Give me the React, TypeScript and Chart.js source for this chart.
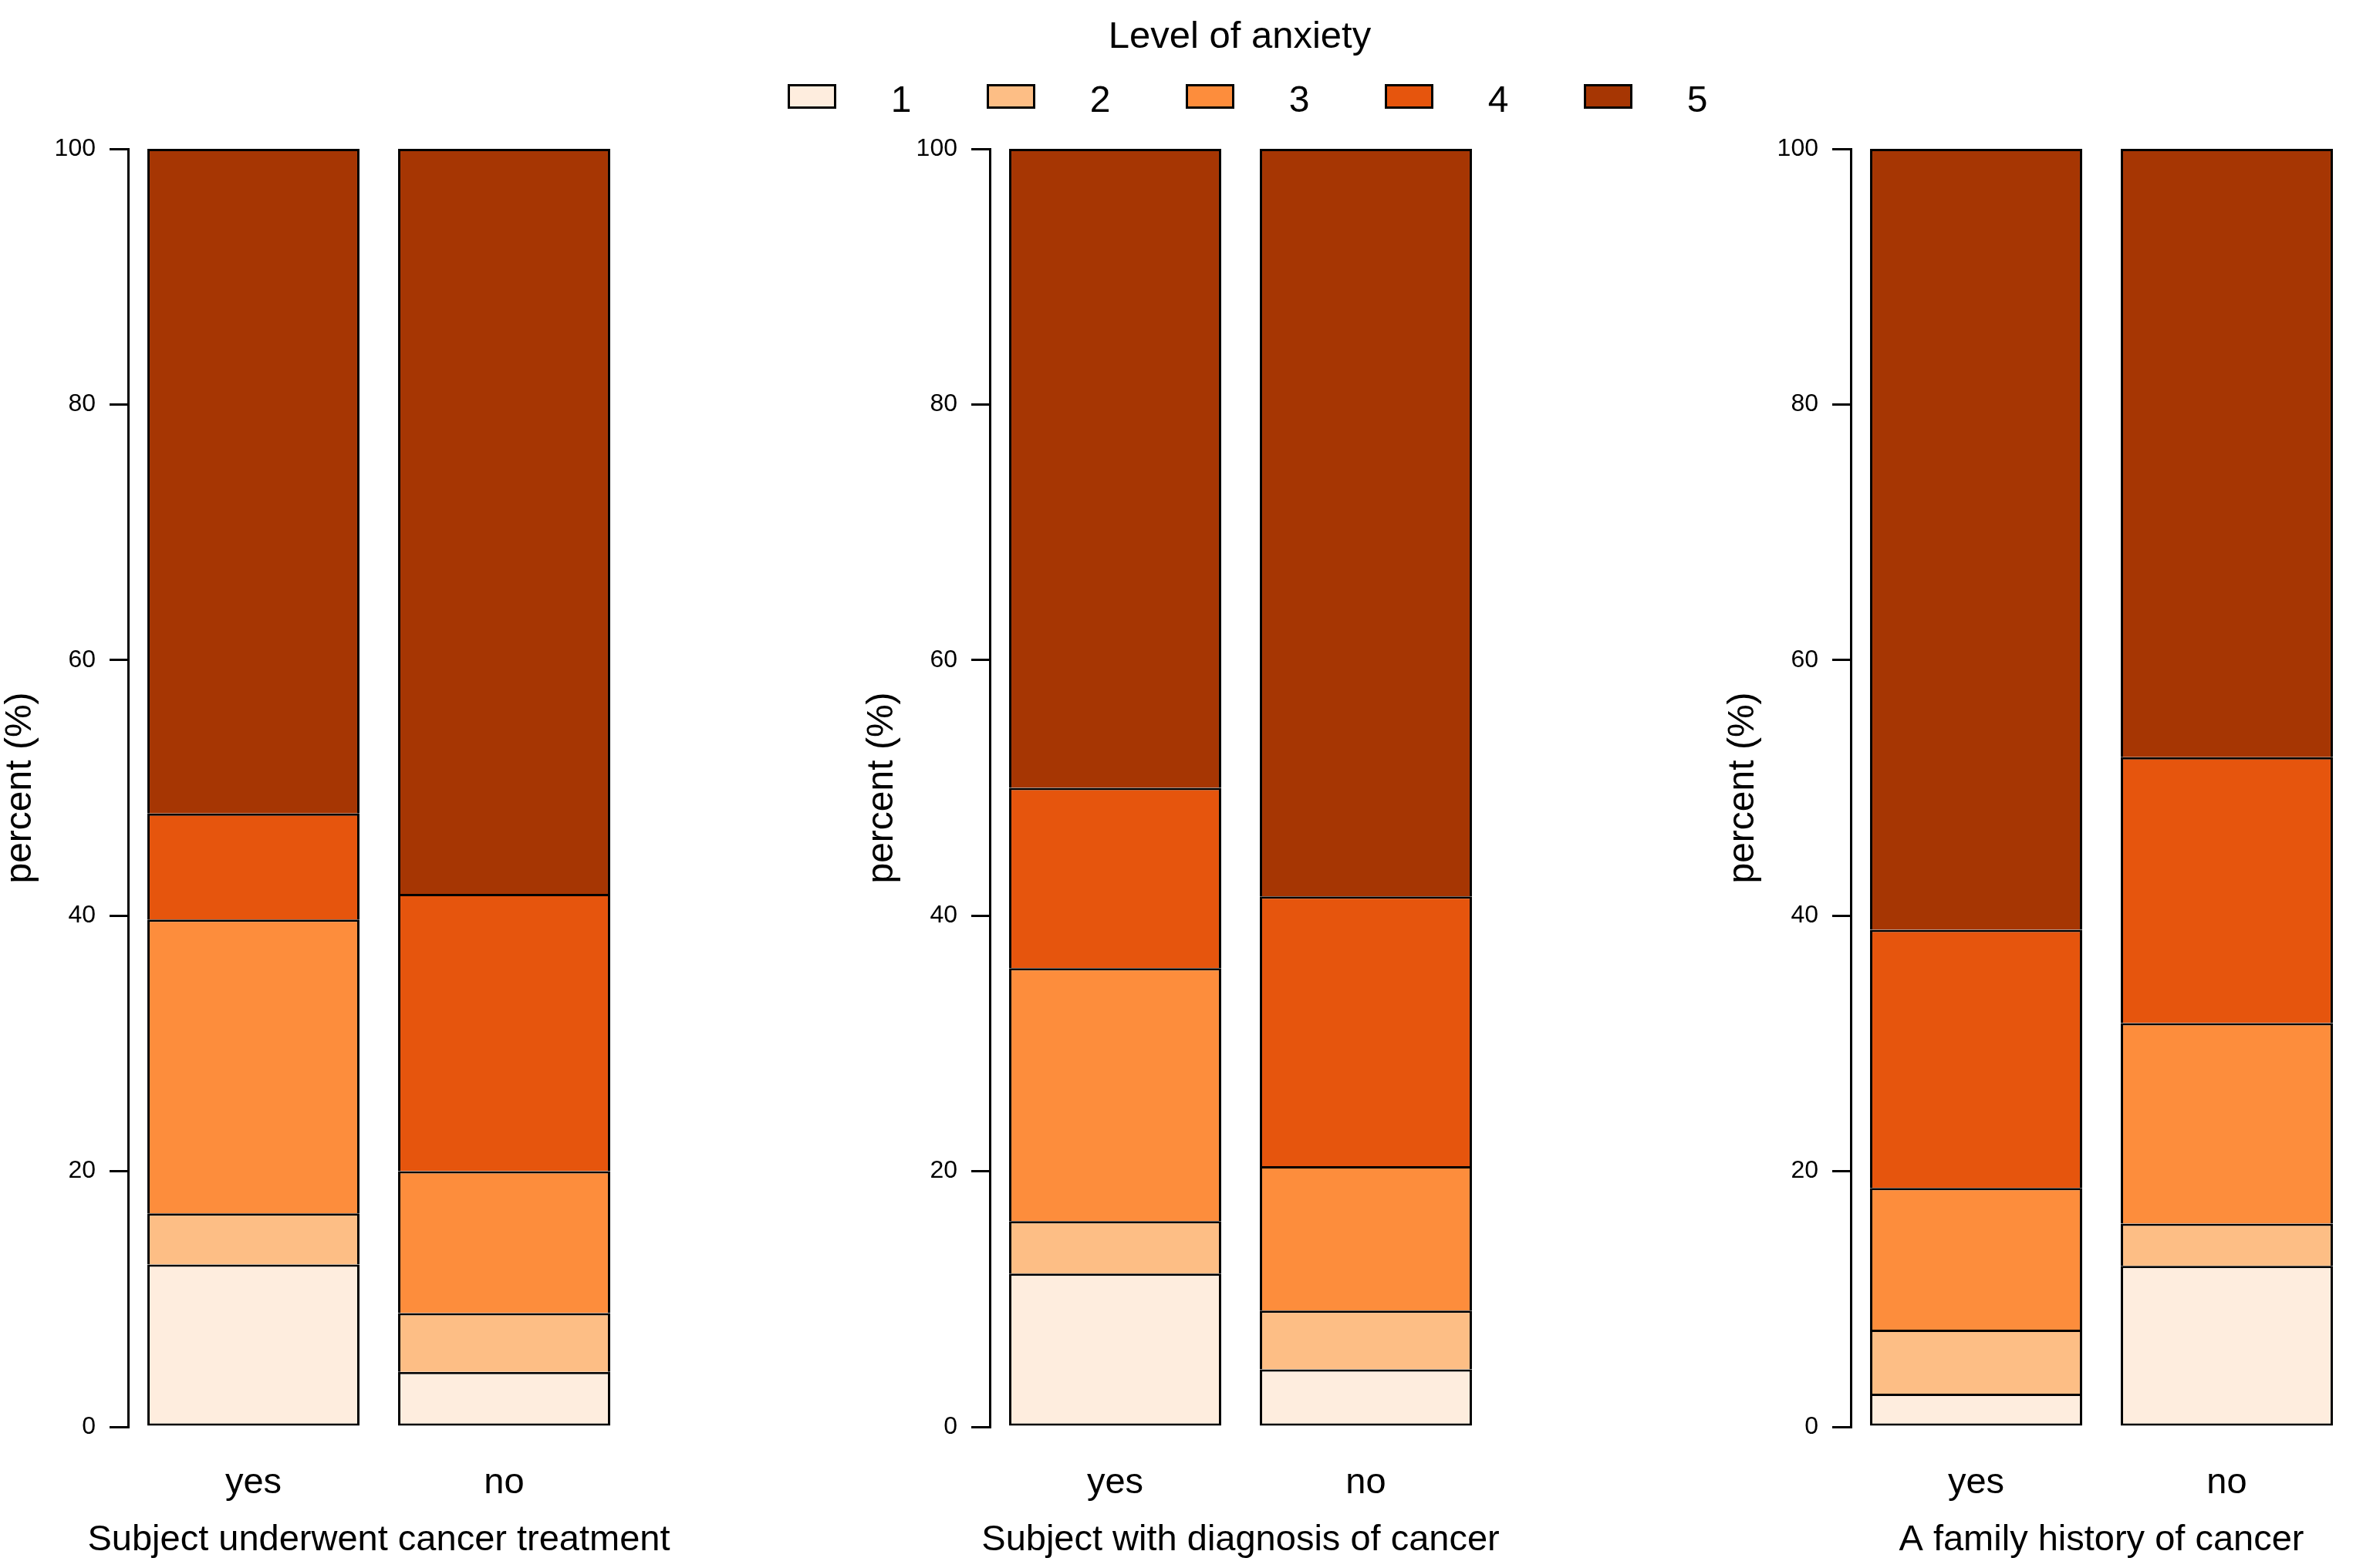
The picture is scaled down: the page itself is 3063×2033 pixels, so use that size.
import React, { useEffect, useRef } from "react";
import { Chart, registerables } from "chart.js";

Chart.register(...registerables);

// ---- data ----
const levels = ["1", "2", "3", "4", "5"];
const levelColors = ["#FEEDDE", "#FDBE85", "#FD8D3C", "#E6550D", "#A63603"];
const categories = ["yes", "no"];
const panelTitles = [
  "Subject underwent cancer treatment",
  "Subject with diagnosis of cancer",
  "A family history of cancer",
];
const legendTitle = "Level of anxiety";
const yAxisTitle = "percent (%)";
const yTickValues = [0, 20, 40, 60, 80, 100];

// percent per anxiety level (1..5)
const treatmentYes = [12.7, 4.0, 23.0, 8.3, 52.0];
const treatmentNo = [4.3, 4.6, 11.1, 21.7, 58.3];
const diagnosisYes = [12.0, 4.1, 19.8, 14.1, 50.0];
const diagnosisNo = [4.5, 4.6, 11.3, 21.1, 58.5];
const familyYes = [2.6, 5.0, 11.1, 20.2, 61.1];
const familyNo = [12.6, 3.3, 15.7, 20.8, 47.6];

const panelYes = [treatmentYes, diagnosisYes, familyYes];
const panelNo = [treatmentNo, diagnosisNo, familyNo];

// ---- layout ----
const FONT = '"Liberation Sans", Arial, Helvetica, sans-serif';
const PAGE_W = 3063;
const PAGE_H = 2033;
const PANEL_STEP = 1116.5;
const AXIS_W = 166;
const PLOT_W = 650;
const PLOT_TOP = 193;
const XAXIS_H = 183;
const XTITLE_Y = 1997;

// draws the panel's x-axis title centred under the plot, without width squeezing
const xTitlePlugin = {
  id: "xTitleFree",
  afterDraw(chart: any, _args: any, opts: any) {
    const { ctx, chartArea } = chart;
    ctx.save();
    ctx.fillStyle = "#000";
    ctx.font = `47px ${FONT}`;
    ctx.textAlign = "center";
    ctx.textBaseline = "middle";
    ctx.fillText(opts.text, (chartArea.left + chartArea.right) / 2, XTITLE_Y);
    ctx.restore();
  },
};

function panelBox(index: number) {
  const left = Math.round(index * PANEL_STEP);
  const next = index < 2 ? Math.round((index + 1) * PANEL_STEP) : PAGE_W;
  return { left, w: next - left };
}

function Panel({ index }: { index: number }) {
  const ref = useRef<HTMLCanvasElement | null>(null);
  const { left, w } = panelBox(index);
  useEffect(() => {
    if (!ref.current) return;
    const yes = panelYes[index];
    const no = panelNo[index];
    const chart = new Chart(ref.current, {
      type: "bar",
      data: {
        labels: categories,
        datasets: levels.map((lv, k) => ({
          label: lv,
          data: [yes[k], no[k]],
          backgroundColor: levelColors[k],
          borderColor: "#000000",
          borderWidth: 3,
          borderSkipped: k === 0 ? false : "start",
          barPercentage: 0.846,
          categoryPercentage: 1,
        })),
      },
      plugins: [xTitlePlugin],
      options: {
        animation: false,
        responsive: false,
        devicePixelRatio: 1,
        layout: {
          padding: {
            top: PLOT_TOP,
            left: 0,
            right: w - AXIS_W - PLOT_W,
            bottom: 0,
          },
        },
        plugins: {
          legend: { display: false },
          tooltip: { enabled: false },
          xTitleFree: { text: panelTitles[index] },
        },
        scales: {
          x: {
            stacked: true,
            grid: { display: false, drawTicks: false },
            border: { display: false },
            ticks: {
              color: "#000",
              font: { family: FONT, size: 47 },
              padding: 45,
            },
            title: { display: false },
            afterFit: (s: any) => {
              s.height = XAXIS_H;
            },
          },
          y: {
            stacked: true,
            min: 0,
            max: 100,
            afterBuildTicks: (s: any) => {
              s.ticks = yTickValues.map((v) => ({ value: v }));
            },
            grid: {
              drawOnChartArea: false,
              drawTicks: true,
              tickLength: 24,
              color: "#000",
              lineWidth: 3,
            },
            border: { display: true, color: "#000", width: 3 },
            ticks: {
              color: "#000",
              font: { family: FONT, size: 32 },
              padding: 18,
            },
            title: {
              display: true,
              text: yAxisTitle,
              color: "#000",
              font: { family: FONT, size: 48, lineHeight: 1 },
              padding: { top: 3, bottom: 0 },
            },
            afterFit: (s: any) => {
              s.width = AXIS_W;
            },
          },
        },
      },
    } as any);
    return () => chart.destroy();
  }, [index, w]);
  return (
    <canvas
      ref={ref}
      width={w}
      height={PAGE_H}
      style={{
        position: "absolute",
        left,
        top: 0,
        width: w,
        height: PAGE_H,
      }}
    />
  );
}

function Legend() {
  const boxLeft0 = 1021;
  const step = 258;
  return (
    <>
      <div
        style={{
          position: "absolute",
          left: 1307,
          width: 600,
          top: 21,
          fontSize: 49,
          lineHeight: "49px",
          textAlign: "center",
          color: "#000",
        }}
      >
        {legendTitle}
      </div>
      {levels.map((lv, i) => (
        <React.Fragment key={lv}>
          <div
            style={{
              position: "absolute",
              left: boxLeft0 + i * step,
              top: 109,
              width: 63,
              height: 32,
              boxSizing: "border-box",
              border: "3px solid #000",
              background: levelColors[i],
            }}
          />
          <div
            style={{
              position: "absolute",
              left: boxLeft0 + i * step + 147 - 50,
              width: 100,
              top: 105,
              fontSize: 48,
              lineHeight: "48px",
              textAlign: "center",
              color: "#000",
            }}
          >
            {lv}
          </div>
        </React.Fragment>
      ))}
    </>
  );
}

export default function App() {
  return (
    <div
      style={{
        position: "absolute",
        left: 0,
        top: 0,
        width: PAGE_W,
        height: PAGE_H,
        background: "#ffffff",
        overflow: "hidden",
        fontFamily: FONT,
      }}
    >
      {panelTitles.map((t, i) => (
        <Panel key={t} index={i} />
      ))}
      <Legend />
    </div>
  );
}
